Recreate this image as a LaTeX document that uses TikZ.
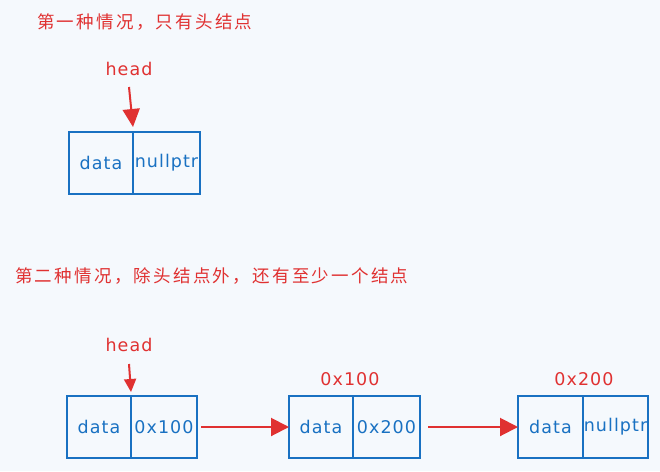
\documentclass[tikz,border=0pt]{standalone}
\usepackage{fontspec}
\setmainfont{DejaVu Sans}[LetterSpace=6]
\newfontfamily\cjk[LetterSpace=13]{Noto Sans CJK SC}
\usetikzlibrary{arrows.meta}
\definecolor{bg}{HTML}{F5F9FD}
\definecolor{xblue}{HTML}{1971C2}
\definecolor{xred}{HTML}{E03131}
\tikzset{
  cell/.style={draw=xblue, line width=2.4pt, minimum height=62pt, inner sep=0pt, outer sep=0pt, text=xblue, font=\fontsize{17.5}{17.5}\selectfont, anchor=west},
  title/.style={text=xred, font=\cjk\fontsize{17.5}{17.5}\selectfont, anchor=west, inner sep=0pt},
  lbl/.style={text=xred, font=\fontsize{17.5}{17.5}\selectfont, inner sep=0pt},
  link/.style={draw=xred, line width=2pt, -{Triangle[length=18pt,width=18pt]}},
  hptr/.style={draw=xred, line width=2pt, -{Triangle[length=13pt,width=12pt]}},
}
\begin{document}
\begin{tikzpicture}[x=1pt,y=-1pt]
\fill[bg] (0,0) rectangle (660,471);
\useasboundingbox (0,0) rectangle (660,471);

% case 1
\node[title] (t1) at (37,22) {第一种情况，只有头结点};
\node[lbl] (h1) at (129,69) {head};
\node[cell, minimum width=64pt] (d1) at (69,163) {data};
\node[cell, minimum width=67pt] (p1) at (d1.east) {nullptr};
\coordinate (h1s) at (129,87);
\draw[draw=xred, line width=2pt, -{Triangle[length=18pt,width=17pt]}] (h1s) -- ([yshift=5pt]d1.north east);

% case 2
\node[title] (t2) at (15,276) {第二种情况，除头结点外，还有至少一个结点};
\node[lbl] (h2) at (129,345) {head};
\node[cell, minimum width=64pt] (d2) at (67,427) {data};
\node[cell, minimum width=66pt] (p2) at (d2.east) {0x100};
\coordinate (h2s) at (129,364);
\draw[hptr] (h2s) -- ([yshift=4pt]d2.north east);

\node[lbl] (a3) at (350,379) {0x100};
\node[cell, minimum width=64pt] (d3) at (289,427) {data};
\node[cell, minimum width=67pt] (p3) at (d3.east) {0x200};

\node[lbl] (a4) at (584,379) {0x200};
\node[cell, minimum width=65pt] (d4) at (518,427) {data};
\node[cell, minimum width=65pt] (p4) at (d4.east) {nullptr};

\draw[link] ([xshift=4pt]p2.east) -- (d3.west);
\draw[link] ([xshift=8pt]p3.east) -- (d4.west);
\end{tikzpicture}
\end{document}
